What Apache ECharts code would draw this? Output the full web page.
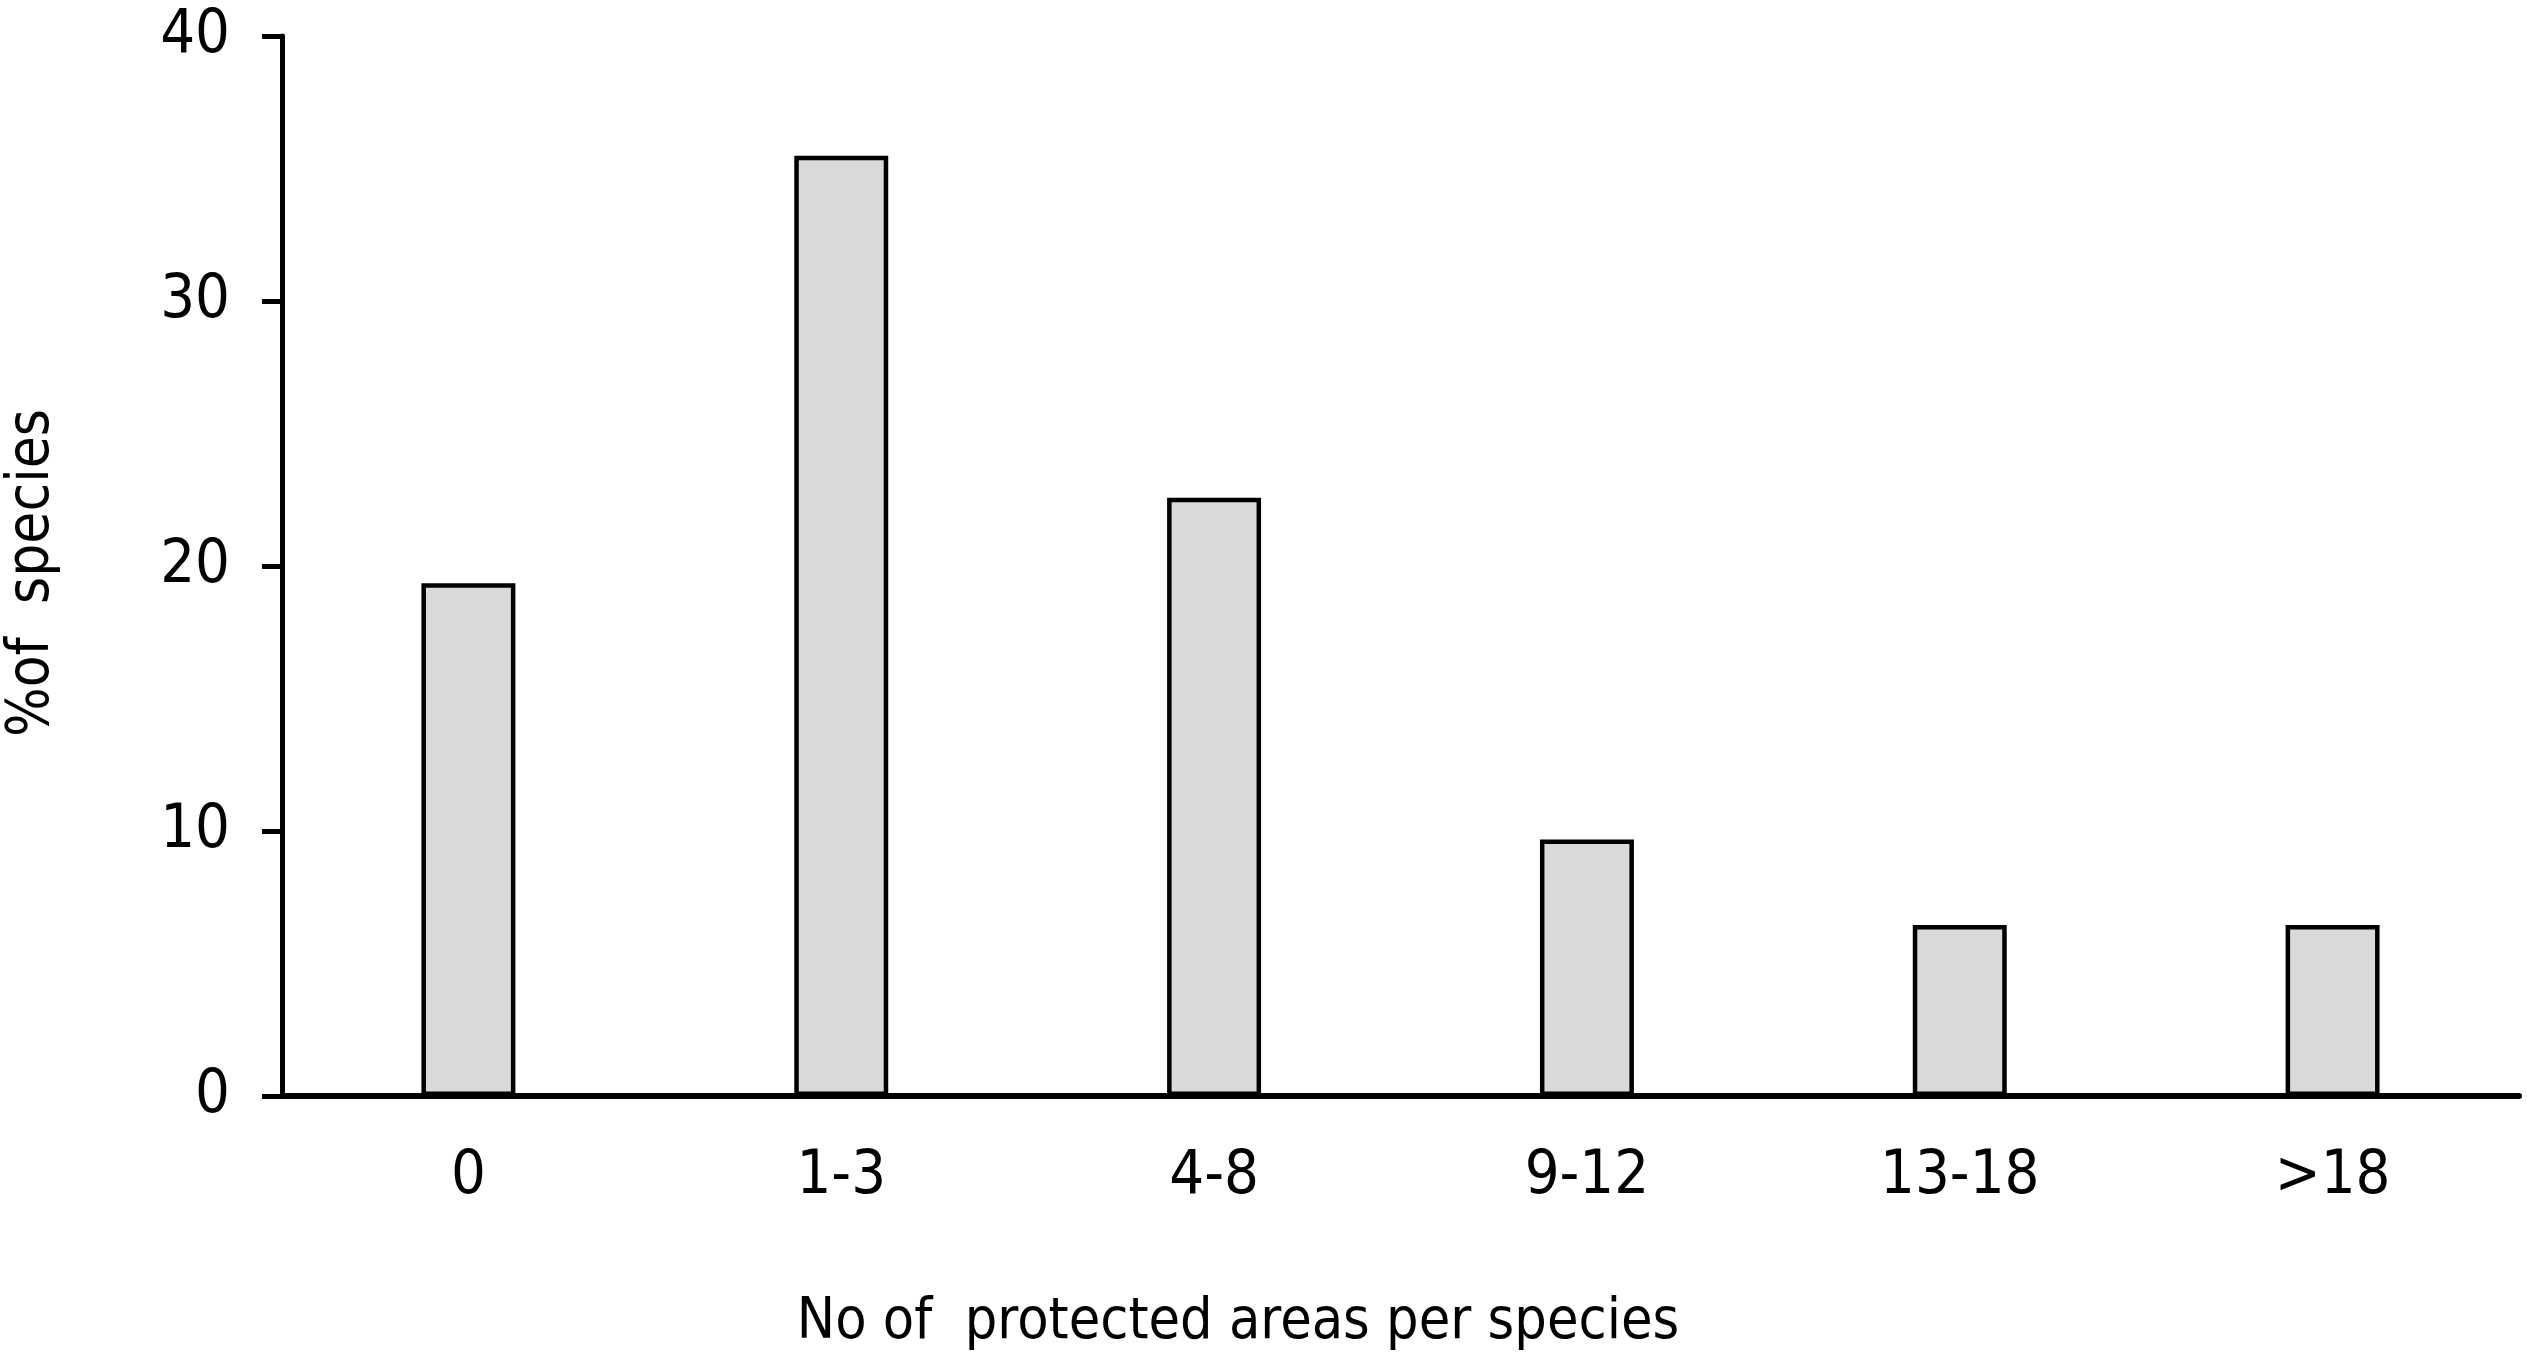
<!DOCTYPE html>
<html>
<head>
<meta charset="utf-8">
<script src="https://cdn.jsdelivr.net/npm/echarts@6/dist/echarts.min.js"></script>
<style>
  html, body { margin: 0; padding: 0; background: #fff; }
  #main { width: 2527px; height: 1359px; }
</style>
</head>
<body>
<div id="main"></div>
<script>
var categories = ['0', '1-3', '4-8', '9-12', '13-18', '>18'];
var percentSpecies = [19.35, 35.48, 22.58, 9.68, 6.45, 6.45];
var yTicks = { min: 0, max: 40, interval: 10 };

var font = "'DejaVu Sans Condensed', 'DejaVu Sans', sans-serif";

var myChart = echarts.init(document.getElementById('main'));

var option = {
  backgroundColor: '#fff',
  animation: false,
  grid: {
    left: 282,
    right: 8,
    top: 36,
    bottom: 263,
    containLabel: false,
    outerBoundsMode: 'none'
  },
  xAxis: {
    type: 'category',
    data: categories,
    boundaryGap: true,
    axisLine: { lineStyle: { color: '#000', width: 6 } },
    axisTick: { show: false },
    axisLabel: {
      color: '#000',
      fontFamily: font,
      fontSize: 61,
      margin: 51
    }
  },
  yAxis: {
    type: 'value',
    min: yTicks.min,
    max: yTicks.max,
    interval: yTicks.interval,
    name: '%of  species',
    nameLocation: 'middle',
    nameGap: 220,
    nameTextStyle: {
      color: '#000',
      fontFamily: font,
      fontSize: 58,
      padding: [0, 14, 0, 0]
    },
    splitLine: { show: false },
    axisLine: { show: true, lineStyle: { color: '#000', width: 5 } },
    axisTick: { show: true, length: 20, lineStyle: { color: '#000', width: 5 } },
    axisLabel: {
      color: '#000',
      fontFamily: font,
      fontSize: 61,
      margin: 52
    }
  },
  graphic: [
    {
      type: 'text',
      x: 1238,
      y: 1323,
      style: {
        text: 'No of  protected areas per species',
        fill: '#000',
        font: '57px ' + font,
        align: 'center',
        verticalAlign: 'middle'
      }
    }
  ],
  series: [
    {
      type: 'bar',
      data: percentSpecies,
      barWidth: '25.2%',
      itemStyle: {
        color: '#d9d9d9',
        borderColor: '#000',
        borderWidth: 4.5
      }
    }
  ]
};

myChart.setOption(option);
</script>
</body>
</html>
